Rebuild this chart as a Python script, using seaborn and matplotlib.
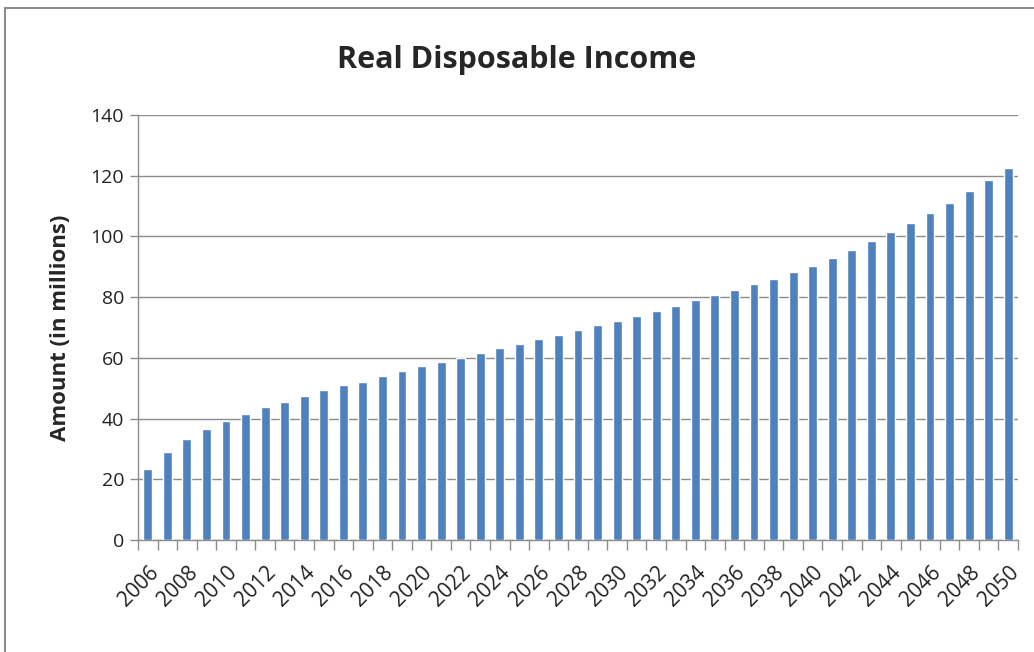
import pandas as pd
import seaborn as sns
import matplotlib.pyplot as plt
from matplotlib.patches import Rectangle

# data
years = list(range(2006, 2051))
income = [23.5, 28.9, 33.2, 36.5, 39.1, 41.6, 43.8, 45.5, 47.5, 49.3,
          51.0, 52.1, 53.9, 55.6, 57.3, 58.5, 60.0, 61.5, 63.1, 64.5,
          66.1, 67.4, 69.1, 70.8, 72.0, 73.8, 75.4, 77.2, 78.9, 80.6,
          82.2, 84.4, 86.1, 88.2, 90.3, 92.8, 95.4, 98.4, 101.3, 104.3,
          107.6, 111.0, 114.9, 118.6, 122.4]
yticks = [0, 20, 40, 60, 80, 100, 120, 140]

df = pd.DataFrame({'Year': [str(y) for y in years], 'Income': income})

sns.set_style('white')
plt.rcParams['font.family'] = ['Open Sans', 'DejaVu Sans']

fig = plt.figure(figsize=(10.34, 6.52), dpi=100)
ax = fig.add_axes([138/1034, 1 - 540/652, (1018 - 138)/1034, (540 - 115)/652])

sns.barplot(data=df, x='Year', y='Income', color='#4F81BD', saturation=1,
            width=0.45, ax=ax, zorder=3)

ax.set_ylim(0, 140)
ax.set_xlim(-0.5, len(years) - 0.5)
ax.set_yticks(yticks)
ax.set_yticklabels([str(v) for v in yticks], fontsize=14, color='#222222')
ax.yaxis.grid(True, color='#8c8c8c', linewidth=1, zorder=0)

# every other year labelled, tick marks between categories
pos = list(range(0, len(years), 2))
ax.set_xticks(pos)
ax.set_xticklabels([str(years[i]) for i in pos], rotation=45, ha='right',
                   rotation_mode='anchor', fontsize=15, color='#222222')
ax.set_xticks([i - 0.5 for i in range(len(years) + 1)], minor=True)
ax.tick_params(axis='x', which='major', length=0, pad=16, bottom=True)
ax.tick_params(axis='x', which='minor', length=7, color='#8c8c8c', width=1, bottom=True)
ax.tick_params(axis='y', length=6, color='#8c8c8c', width=1, left=True, pad=4)

for s in ['top', 'right']:
    ax.spines[s].set_visible(False)
for s in ['left', 'bottom']:
    ax.spines[s].set_color('#8c8c8c')
    ax.spines[s].set_linewidth(1)

ax.set_xlabel('')
ax.set_ylabel('Amount (in millions)', fontsize=16, fontweight='bold', labelpad=14)

fig.text(0.5, 1 - 60/652, 'Real Disposable Income', ha='center', va='center',
         fontsize=22, fontweight='bold')

# outer chart frame
fig.patches.append(Rectangle((5/1034, -0.1), 1.2, 1.1 - 8/652, transform=fig.transFigure,
                             fill=False, edgecolor='#8c8c8c', linewidth=1.5))

fig.savefig('out.png', dpi=100)
